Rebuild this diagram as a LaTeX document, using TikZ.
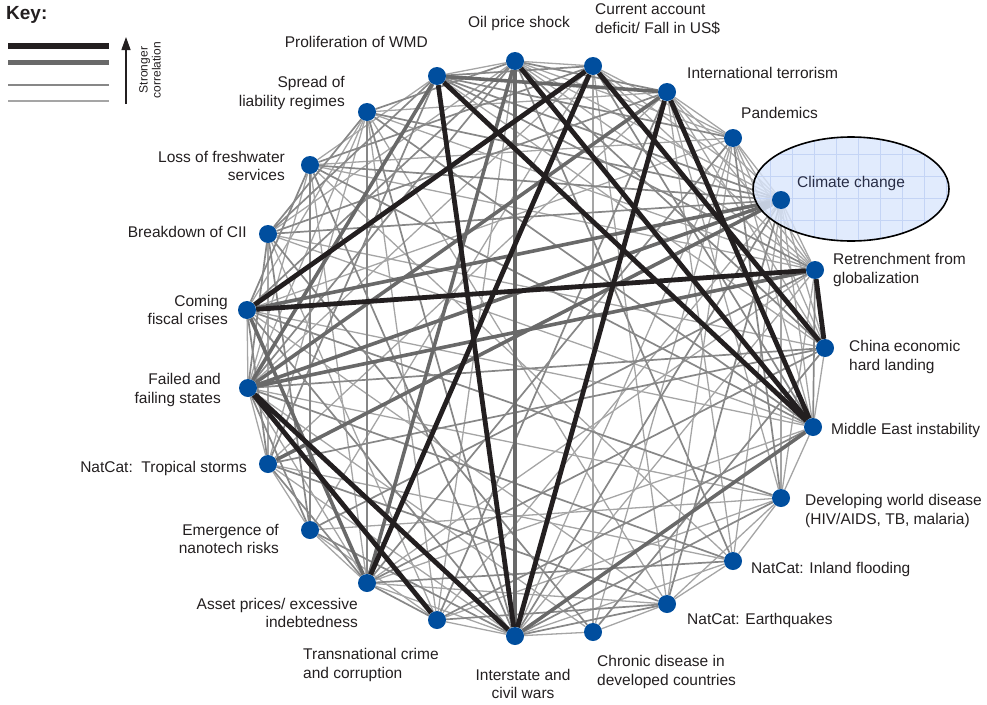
\documentclass[tikz,border=0pt]{standalone}
\usepackage{fontspec}
\setmainfont{Liberation Sans}
\usetikzlibrary{arrows.meta}
\pgfdeclarelayer{bgz}
\pgfdeclarelayer{bgy}
\pgfdeclarelayer{bgx}
\pgfsetlayers{bgz,bgy,bgx,main}
\definecolor{dotblue}{RGB}{0,78,158}
\definecolor{linek}{RGB}{35,31,32}
\definecolor{lined}{RGB}{105,105,105}
\definecolor{linem}{RGB}{135,135,135}
\definecolor{linel}{RGB}{165,165,165}
\definecolor{ellfill}{RGB}{218,230,252}
\definecolor{ellgrid}{RGB}{196,212,245}
\definecolor{labc}{RGB}{35,31,32}
\begin{document}
\begin{tikzpicture}[x=1pt,y=-1pt,
  dot/.style={circle,fill=dotblue,minimum size=18pt,inner sep=0pt},
  lbl/.style={inner sep=0pt,text=labc,font=\fontsize{15.5}{18.5}\selectfont},
  kblack/.style={draw=linek,line width=4.8pt},
  kdark/.style={draw=lined,line width=3.6pt},
  kmid/.style={draw=linem,line width=1.7pt},
  klight/.style={draw=linel,line width=1.3pt}]
\useasboundingbox (0,0) rectangle (987,704);

% nodes
\foreach \i/\x/\y in {0/515/61,1/593/66,2/667/92,3/733/138,4/781/200,5/815/270,6/825/348,7/813/427,8/781/498,9/733/561,10/667/604,11/593/632,12/515/636,13/437/620,14/367/583,15/310/530,16/268/464,17/248/388,18/247/310,19/268/234,20/310/165,21/367/112,22/437/76}
  \node[dot] (n\i) at (\x,\y) {};

% climate ellipse (semi-transparent over the connectors)
\begin{pgfonlayer}{bgx}
\begin{scope}
  \clip (851,189) ellipse [x radius=98, y radius=52];
  \fill[ellfill,opacity=0.8] (751,135) rectangle (951,243);
  \draw[ellgrid,line width=0.6pt,step=22pt] (740,120) grid (960,250);
\end{scope}
\draw[black,line width=1.6pt] (851,189) ellipse [x radius=98, y radius=52];
\end{pgfonlayer}

% connectors
\begin{pgfonlayer}{bgy}
\foreach \a/\b in {21/17,21/16,21/13,21/10,21/5,21/2,20/17,20/14,20/9,20/5,20/3,20/22,19/16,19/13,19/7,19/6,19/0,18/17,18/10,18/7,18/3,18/21,17/16,17/14,17/11,17/8,17/1,16/15,16/12,16/9,16/2,15/14,15/13,15/8,15/1,14/12,14/10,14/7,14/5,13/12,13/8,13/4,13/0,12/11,12/9,12/5,12/3,11/10,11/3,11/1,10/9,10/8,10/3,10/1,9/8,9/4,9/2,8/7,8/4,8/5,8/2,7/6,7/4,7/3,6/4,6/3,6/2,6/22,5/4,5/3,5/2,5/1,5/0,4/3,4/2,4/1,4/0,3/2,3/1,3/0,1/0,0/22}
  \draw[klight] (n\a) -- (n\b);
\foreach \a/\b in {21/19,21/14,21/12,21/7,21/4,21/0,20/18,20/15,20/12,20/7,20/4,20/1,19/17,19/15,19/11,19/4,19/2,19/22,18/16,18/12,18/8,18/0,17/15,17/9,17/6,17/0,16/14,16/10,16/6,16/22,15/12,15/5,14/13,14/9,14/6,14/3,13/10,13/7,13/2,12/10,12/8,12/4,11/6,10/4,9/0,8/3,7/5,7/1,6/0,5/22,4/22,3/22,2/0,1/22}
  \draw[kmid] (n\a) -- (n\b);
\foreach \a/\b in {0/12,12/7,22/2,22/17,17/4,17/5,17/2,16/4,14/0,18/4,18/14}
  \draw[kdark] (n\a) -- (n\b);
\foreach \a/\b in {22/12,22/7,0/7,1/6,1/18,1/14,2/7,2/12,18/5,5/6,17/12,17/13}
  \draw[kblack] (n\a) -- (n\b);
\end{pgfonlayer}

% labels
\node[lbl,anchor=east] at (428,42) {Proliferation of WMD};
\node[lbl] at (519,23) {Oil price shock};
\node[lbl,anchor=west,align=left] at (595,19) {Current account\\deficit/ Fall in US\$};
\node[lbl,anchor=west] at (687,73) {International terrorism};
\node[lbl,anchor=west] at (741,113) {Pandemics};
\node[lbl,anchor=west,text={rgb,255:red,40;green,45;blue,70}] at (797,183) {Climate change};
\node[lbl,anchor=west,align=left] at (833,270) {Retrenchment from\\globalization};
\node[lbl,anchor=west,align=left] at (849,357) {China economic\\hard landing};
\node[lbl,anchor=west] at (831,430) {Middle East instability};
\node[lbl,anchor=west,align=left] at (805,511) {Developing world disease\\(HIV/AIDS, TB, malaria)};
\node[lbl,anchor=west] at (751,569) {NatCat: Inland flooding};
\node[lbl,anchor=west] at (687,620) {NatCat: Earthquakes};
\node[lbl,anchor=west,align=left] at (597,672) {Chronic disease in\\developed countries};
\node[lbl,align=center] at (523,684) {Interstate and\\civil wars};
\node[lbl,anchor=west,align=left] at (303,665) {Transnational crime\\and corruption};
\node[lbl,anchor=east,align=right] at (358,613) {Asset prices/ excessive\\indebtedness};
\node[lbl,anchor=east,align=right] at (279,539) {Emergence of\\nanotech risks};
\node[lbl,anchor=east] at (247,468) {NatCat:\ \ Tropical storms};
\node[lbl,anchor=east,align=right] at (221,390) {Failed and\\failing states};
\node[lbl,anchor=east,align=right] at (228,310) {Coming\\fiscal crises};
\node[lbl,anchor=east] at (247,232) {Breakdown of CII};
\node[lbl,anchor=east,align=right] at (285,166) {Loss of freshwater\\services};
\node[lbl,anchor=east,align=right] at (345,93) {Spread of\\liability regimes};

% key
\node[lbl,anchor=west,font=\fontsize{19}{22}\selectfont\bfseries] (keyt) at (6,15) {Key:};
\draw[linek,line width=6pt] (8,46) -- (109,46);
\draw[lined,line width=5pt] (8,62) -- (109,62);
\draw[linem,line width=1.5pt] (8,85) -- (109,85);
\draw[linel,line width=1.5pt] (8,101) -- (109,101);
\draw[linek,line width=1.3pt,-{Triangle[length=13pt,width=9pt]}] (126,104) -- (126,37);
\node[lbl,rotate=90,align=center,font=\fontsize{12}{13}\selectfont] (keyr) at (150,70) {Stronger\\correlation};
\end{tikzpicture}
\end{document}
